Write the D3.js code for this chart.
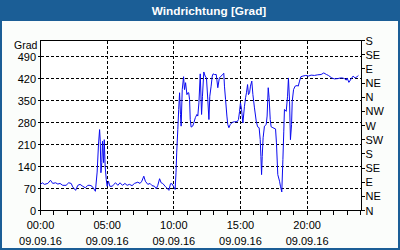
<!DOCTYPE html>
<html><head><meta charset="utf-8">
<script src="https://cdn.jsdelivr.net/npm/d3@7"></script>
<style>html,body{margin:0;padding:0;background:#fff;}svg{display:block;}</style>
</head><body>
<svg id="c" width="400" height="250"></svg>
<script>
const title = "Windrichtung [Grad]";
const yUnit = "Grad";
const dateLabel = "09.09.16";
const xTickHours = [0, 5, 10, 15, 20];
const xTickLabels = ["00:00", "05:00", "10:00", "15:00", "20:00"];
const yTicks = [0, 70, 140, 210, 280, 350, 420, 490];
const compassTicks = [0, 45, 90, 135, 180, 225, 270, 315, 360, 405, 450, 495, 540];
const compassLabels = ["N","NE","E","SE","S","SW","W","NW","N","NE","E","SE","S"];

const times = ["00:00","00:08","00:18","00:33","00:45","00:55","01:08","01:18","01:28","01:40","01:55","02:07","02:18","02:25","02:38","02:48","02:58","03:10","03:22","03:33","03:43","03:52","04:00","04:07","04:15","04:21","04:26","04:29","04:32","04:36","04:39","04:44","04:47","04:51","04:56","05:00","05:06","05:12","05:23","05:30","05:38","05:48","05:58","06:09","06:20","06:30","06:40","06:52","07:03","07:18","07:28","07:36","07:45","07:52","08:03","08:13","08:22","08:33","08:41","08:48","08:56","09:03","09:10","09:21","09:28","09:38","09:45","09:52","09:58","10:06","10:10","10:13","10:18","10:22","10:26","10:30","10:33","10:38","10:44","10:48","10:53","10:59","11:03","11:07","11:11","11:14","11:18","11:25","11:30","11:37","11:44","11:48","11:53","11:59","12:05","12:09","12:15","12:21","12:27","12:33","12:38","12:42","12:48","12:53","12:57","13:03","13:11","13:18","13:25","13:33","13:41","13:45","13:48","13:53","13:59","14:03","14:08","14:14","14:23","14:33","14:45","14:51","14:56","15:00","15:05","15:11","15:18","15:23","15:27","15:32","15:36","15:41","15:45","15:51","15:56","16:03","16:11","16:17","16:24","16:29","16:32","16:35","16:38","16:42","16:48","16:56","17:00","17:05","17:09","17:14","17:18","17:26","17:38","17:42","17:48","17:56","18:00","18:06","18:11","18:15","18:18","18:26","18:32","18:36","18:41","18:45","18:50","18:53","18:59","19:06","19:15","19:20","19:26","19:32","19:41","19:54","20:06","20:18","20:33","20:48","21:03","21:15","21:27","21:36","21:51","22:03","22:18","22:30","22:39","22:48","22:56","23:00","23:08","23:18","23:27","23:36","23:45","23:51"];
const values = [83,88,83,86,96,86,88,84,86,80,80,88,86,75,64,80,83,77,72,80,80,77,69,61,122,210,257,220,120,152,220,152,225,141,98,77,93,77,77,83,88,80,88,80,86,80,83,79,86,90,86,93,109,93,83,86,79,77,69,80,101,88,86,77,72,64,85,85,77,67,120,183,257,321,374,305,268,384,425,384,406,368,374,374,352,289,265,268,278,295,305,300,342,434,305,363,440,427,421,352,289,363,395,427,434,432,432,390,421,427,433,436,395,352,300,273,263,273,280,282,282,289,315,342,321,278,331,358,374,400,368,374,395,411,368,326,284,266,263,225,172,114,172,231,268,273,300,390,358,289,266,263,259,215,114,93,77,59,162,252,321,315,363,421,347,225,273,347,384,395,397,395,411,425,427,429,427,430,429,431,432,437,432,429,421,418,419,421,421,419,414,421,407,418,427,421,425,429];

const toHours = s => { const [h, m] = s.split(":").map(Number); return h + m / 60; };
const data = times.map((t, i) => ({ h: toHours(t), v: values[i] }));

const svg = d3.select("#c");
const frameColor = "#1b5e96";
const font = "'Liberation Sans', Arial, sans-serif";

svg.append("rect").attr("x", 0).attr("y", 0).attr("width", 400).attr("height", 250).attr("fill", frameColor);
svg.append("rect").attr("x", 2).attr("y", 21).attr("width", 396).attr("height", 227).attr("fill", "#fbfdfb");
svg.append("text").attr("x", 209).attr("y", 14.5).attr("text-anchor", "middle")
  .attr("font-family", font).attr("font-weight", "bold").attr("font-size", "11.8px")
  .attr("fill", "#fff").text(title);

const x = d3.scaleLinear().domain([0, 24.08]).range([40.5, 361.5]);
const y = d3.scaleLinear().domain([0, 540]).range([210.5, 40.5]);
const crisp = v => Math.floor(v) + 0.5;

const L = 40.5, R = 361.5, T = 40.5, B = 210.5;
svg.append("rect").attr("x", L).attr("y", T).attr("width", R - L).attr("height", B - T).attr("fill", "#fff");

const g = svg.append("g").attr("shape-rendering", "crispEdges");
// gridlines
g.selectAll(".hg").data(yTicks.filter(d => d > 0)).enter().append("line")
  .attr("x1", L).attr("x2", R).attr("y1", d => crisp(y(d))).attr("y2", d => crisp(y(d)))
  .attr("stroke", "#000").attr("stroke-dasharray", "3,2");
g.selectAll(".vg").data(xTickHours.filter(d => d > 0)).enter().append("line")
  .attr("y1", T).attr("y2", B).attr("x1", d => crisp(x(d))).attr("x2", d => crisp(x(d)))
  .attr("stroke", "#000").attr("stroke-dasharray", "3,2");

// line
svg.append("path").datum(data)
  .attr("d", d3.line().x(d => x(d.h)).y(d => y(d.v)))
  .attr("fill", "none").attr("stroke", "#0a0af0").attr("stroke-width", 1);

// frame
g.append("rect").attr("x", L).attr("y", T).attr("width", R - L).attr("height", B - T)
  .attr("fill", "none").attr("stroke", "#000");

// left ticks
g.selectAll(".lt").data(yTicks).enter().append("line")
  .attr("x1", L - 3).attr("x2", L).attr("y1", d => crisp(y(d))).attr("y2", d => crisp(y(d))).attr("stroke", "#000");
svg.selectAll(".ll").data(yTicks).enter().append("text")
  .attr("x", 36).attr("y", d => y(d) + 4.5).attr("text-anchor", "end")
  .attr("font-family", font).attr("font-size", "11px").attr("fill", "#000").text(d => d);
svg.append("text").attr("x", 14).attr("y", 48.5).attr("font-family", font).attr("font-size", "10.5px")
  .attr("fill", "#000").text(yUnit);

// right ticks
g.selectAll(".rt").data(compassTicks).enter().append("line")
  .attr("x1", R).attr("x2", R + 3).attr("y1", d => crisp(y(d))).attr("y2", d => crisp(y(d))).attr("stroke", "#000");
svg.selectAll(".rl").data(compassTicks).enter().append("text")
  .attr("x", 365.5).attr("y", (d) => y(d) + 4)
  .attr("font-family", font).attr("font-size", "11px").attr("fill", "#000")
  .text((d, i) => compassLabels[i]);

// bottom ticks
g.selectAll(".bt").data(d3.range(0, 25)).enter().append("line")
  .attr("x1", d => crisp(x(d))).attr("x2", d => crisp(x(d))).attr("y1", B).attr("y2", B + 4).attr("stroke", "#000");
svg.selectAll(".bl").data(xTickHours).enter().append("text")
  .attr("x", d => x(d)).attr("y", 229).attr("text-anchor", "middle")
  .attr("font-family", font).attr("font-size", "11px").attr("fill", "#000")
  .text((d, i) => xTickLabels[i]);
svg.selectAll(".bd").data(xTickHours).enter().append("text")
  .attr("x", d => x(d)).attr("y", 245).attr("text-anchor", "middle")
  .attr("font-family", font).attr("font-size", "11px").attr("fill", "#000")
  .text(dateLabel);
</script>
</body></html>
